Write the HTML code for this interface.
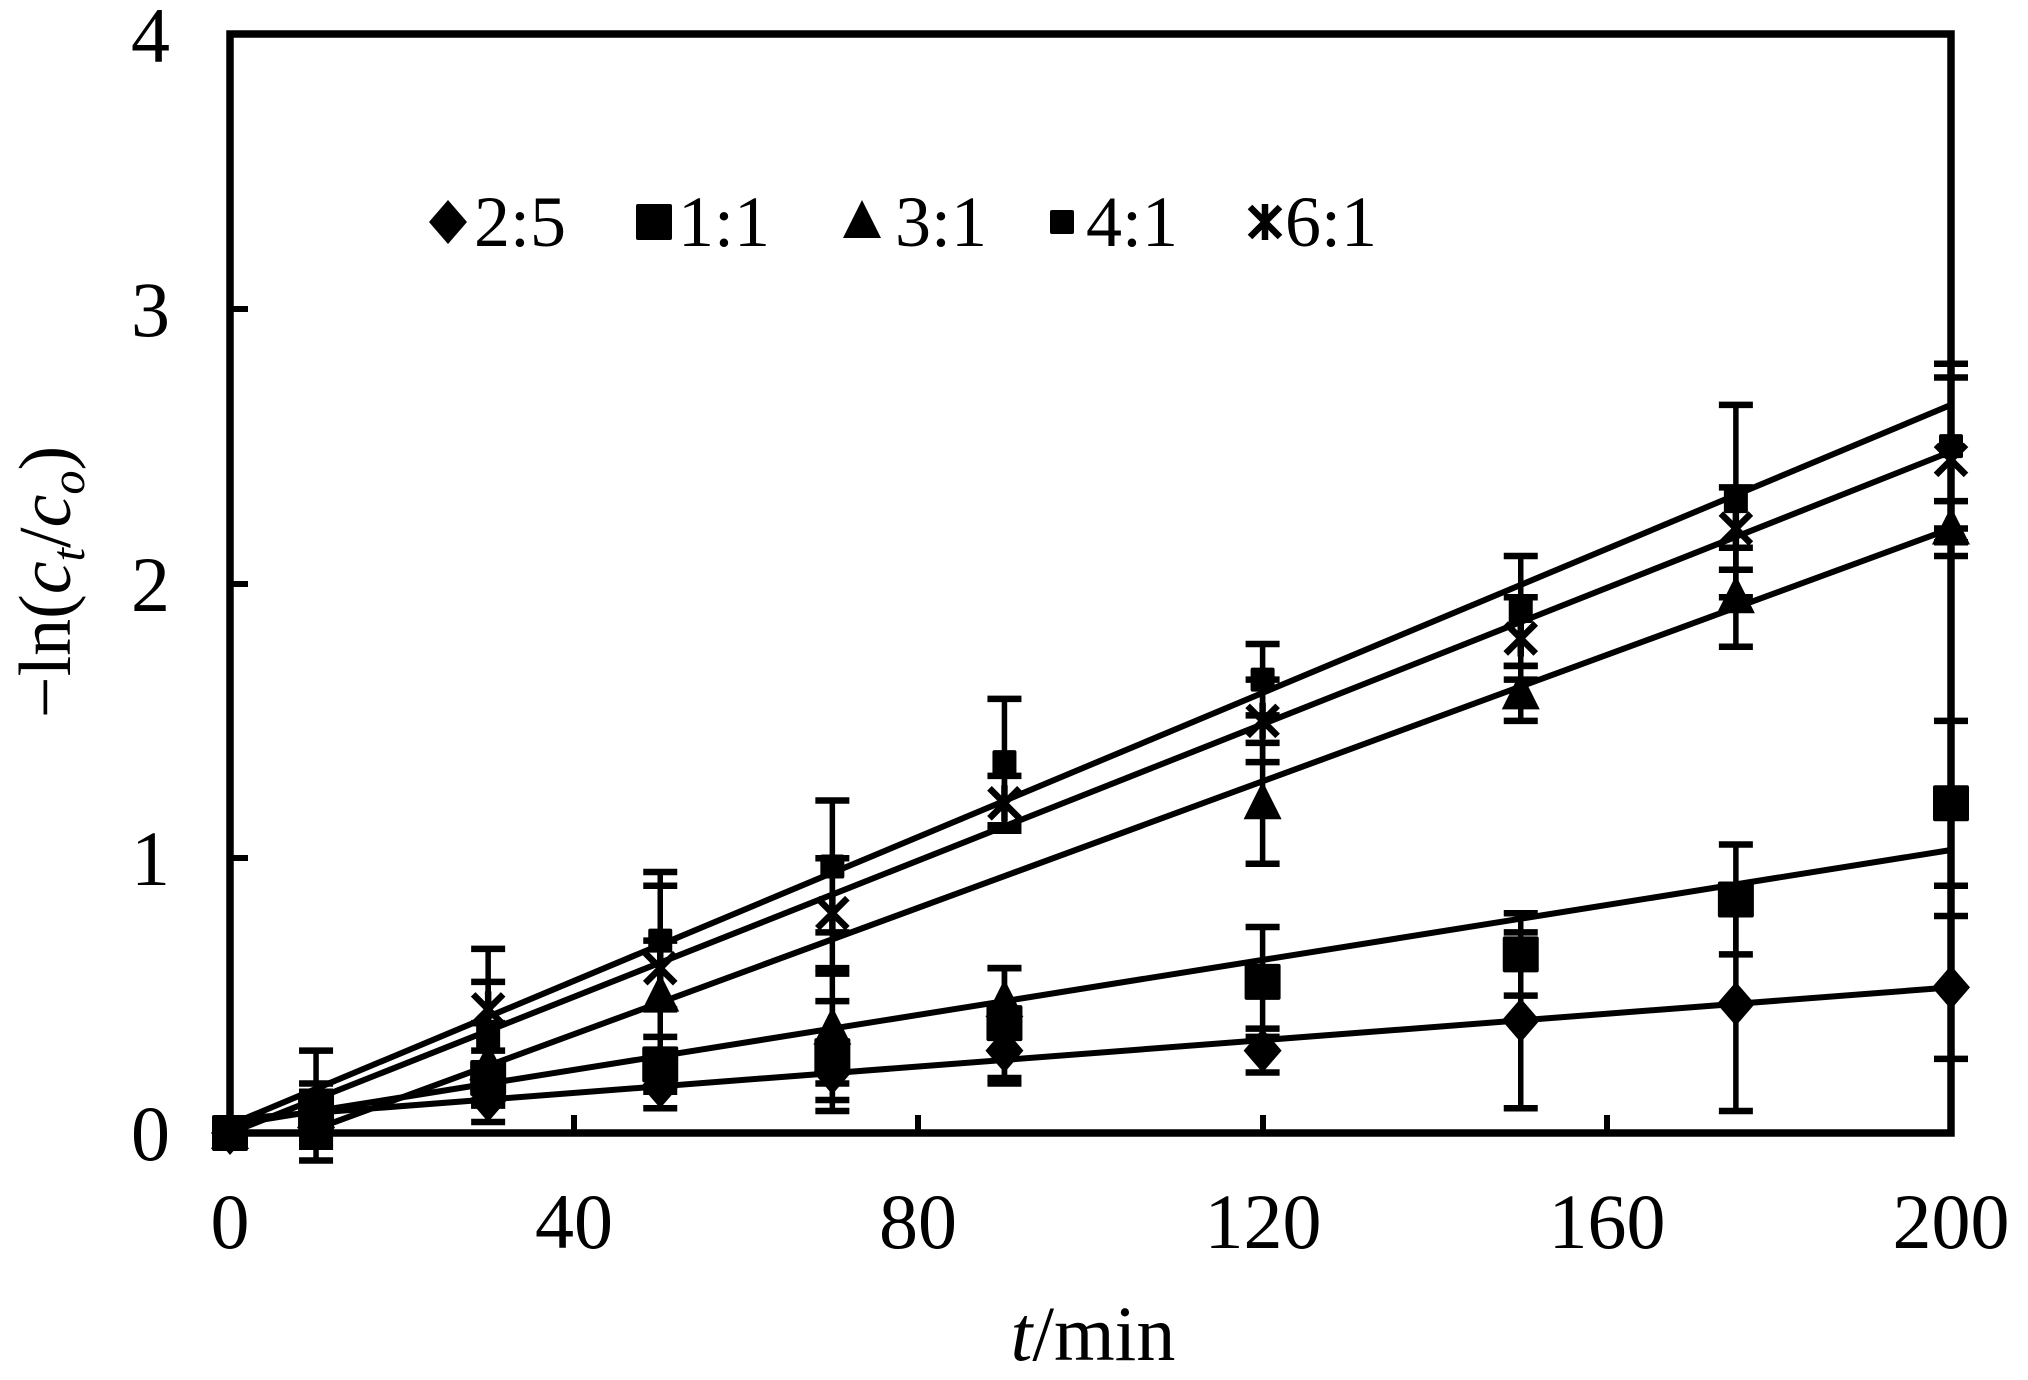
<!DOCTYPE html>
<html><head><meta charset="utf-8"><style>
html,body{margin:0;padding:0;background:#fff;}
svg{display:block;}
text{font-family:"Liberation Serif","Times New Roman",serif;}
</style></head><body>
<svg id="s" width="2028" height="1380" viewBox="0 0 2028 1380" xmlns="http://www.w3.org/2000/svg" font-family="Liberation Serif, serif">
<rect width="2028" height="1380" fill="#fff"/>
<g id="plot"></g>
<rect x="230" y="34" width="1721" height="1099" fill="none" stroke="#000" stroke-width="7.5"/>
<g stroke="#000" stroke-width="6">
<line x1="230" y1="858" x2="248" y2="858"/><line x1="230" y1="584" x2="248" y2="584"/><line x1="230" y1="309" x2="248" y2="309"/>
<line x1="574" y1="1133" x2="574" y2="1115"/><line x1="918" y1="1133" x2="918" y2="1115"/><line x1="1263" y1="1133" x2="1263" y2="1115"/><line x1="1607" y1="1133" x2="1607" y2="1115"/>
</g>
<g font-size="78" text-anchor="end" font-family="Liberation Serif, serif">
<text x="170" y="1160">0</text><text x="170" y="885">1</text><text x="170" y="611">2</text><text x="170" y="336">3</text><text x="170" y="62">4</text>
</g>
<g font-size="78" text-anchor="middle" font-family="Liberation Serif, serif">
<text x="230" y="1248">0</text><text x="574" y="1248">40</text><text x="918" y="1248">80</text><text x="1263" y="1248">120</text><text x="1607" y="1248">160</text><text x="1951" y="1248">200</text>
</g>
<text x="1093" y="1360" font-size="78" text-anchor="middle" font-family="Liberation Serif, serif"><tspan font-style="italic">t</tspan>/min</text>
<text transform="translate(70,582) rotate(-90)" font-size="74" text-anchor="middle" font-family="Liberation Serif, serif">−ln(<tspan font-style="italic">c</tspan><tspan font-style="italic" font-size="48" dy="14">t</tspan><tspan dy="-14">/</tspan><tspan font-style="italic">c</tspan><tspan font-style="italic" font-size="48" dy="14">o</tspan><tspan dy="-14">)</tspan></text>
<g font-size="72" font-family="Liberation Serif, serif">
<text x="474" y="246">2:5</text><text x="678" y="246">1:1</text><text x="895" y="246">3:1</text><text x="1086" y="246">4:1</text><text x="1285" y="246">6:1</text>
</g>
<g id="leg"></g>
</svg>
<script>
var NS="http://www.w3.org/2000/svg";
function X(t){return 230+t*8.605;}function Y(v){return 1133-v*274.75;}
function el(p,n,a){var e=document.createElementNS(NS,n);for(var k in a)e.setAttribute(k,a[k]);p.appendChild(e);return e;}
var g=document.getElementById('plot'),lg=document.getElementById('leg');
function marker(p,type,x,y){
 if(type=='d')el(p,'polygon',{points:(x)+','+(y-22)+' '+(x+19)+','+y+' '+(x)+','+(y+22)+' '+(x-19)+','+y,fill:'#000'});
 else if(type=='s')el(p,'rect',{x:x-18,y:y-18,width:36,height:36,rx:2,fill:'#000'});
 else if(type=='t')el(p,'polygon',{points:x+','+(y-22)+' '+(x+19)+','+(y+16)+' '+(x-19)+','+(y+16),fill:'#000'});
 else if(type=='q')el(p,'rect',{x:x-12,y:y-12,width:24,height:24,rx:2,fill:'#000'});
 else if(type=='x'){el(p,'path',{d:'M'+(x-15)+' '+(y-15)+'L'+(x+15)+' '+(y+15)+'M'+(x+15)+' '+(y-15)+'L'+(x-15)+' '+(y+15)+'M'+x+' '+(y-18)+'L'+x+' '+(y+18),stroke:'#000','stroke-width':6.5});}
}
var T=[0,10,30,50,70,90,120,150,175,200];
var S=[
 {m:'d',a:0.05,b:0.0024,v:[0,0.02,0.12,0.17,0.22,0.3,0.3,0.41,0.47,0.53],e:[0,0.05,0.08,0.08,0.1,0.12,0.08,0.32,0.39,0.26]},
 {m:'s',a:0.03,b:0.005,v:[0,0.08,0.2,0.25,0.28,0.4,0.55,0.65,0.85,1.2],e:[0,0.1,0.1,0.1,0.2,0.2,0.2,0.15,0.2,0.3]},
 {m:'t',a:-0.1,b:0.0115,v:[0,0.05,0.25,0.5,0.38,0.48,1.2,1.6,1.95,2.2],e:[0,0.1,0.15,0.2,0.2,0.12,0.22,0.1,0.18,0.1]},
 {m:'q',a:0.03,b:0.0131,v:[0,0.1,0.35,0.7,0.97,1.35,1.65,1.9,2.3,2.5],e:[0,0.2,0.2,0.25,0.24,0.23,0.13,0.2,0.35,0.3]},
 {m:'x',a:0.0,b:0.0124,v:[0,0.05,0.45,0.6,0.8,1.2,1.5,1.8,2.2,2.45],e:[0,0.1,0.22,0.3,0.2,0.1,0.15,0.15,0.15,0.3]}
];
S.forEach(function(s){
 var t0=s.a<0?-s.a/s.b:0;
 el(g,'line',{x1:X(t0),y1:Y(s.a+s.b*t0),x2:X(200),y2:Y(s.a+s.b*200),stroke:'#000','stroke-width':6});
 T.forEach(function(t,i){var e=s.e[i];if(e>0){var x=X(t);
  el(g,'line',{x1:x,y1:Y(s.v[i]+e),x2:x,y2:Y(s.v[i]-e),stroke:'#000','stroke-width':5.5});
  el(g,'line',{x1:x-17,y1:Y(s.v[i]+e),x2:x+17,y2:Y(s.v[i]+e),stroke:'#000','stroke-width':6.5});
  el(g,'line',{x1:x-17,y1:Y(s.v[i]-e),x2:x+17,y2:Y(s.v[i]-e),stroke:'#000','stroke-width':6.5});}});
 T.forEach(function(t,i){marker(g,s.m,X(t),Y(s.v[i]));});
});
marker(lg,'d',448,222);marker(lg,'s',654,222);marker(lg,'t',862,222);marker(lg,'q',1062,222);marker(lg,'x',1265,222);
</script>
</body></html>
